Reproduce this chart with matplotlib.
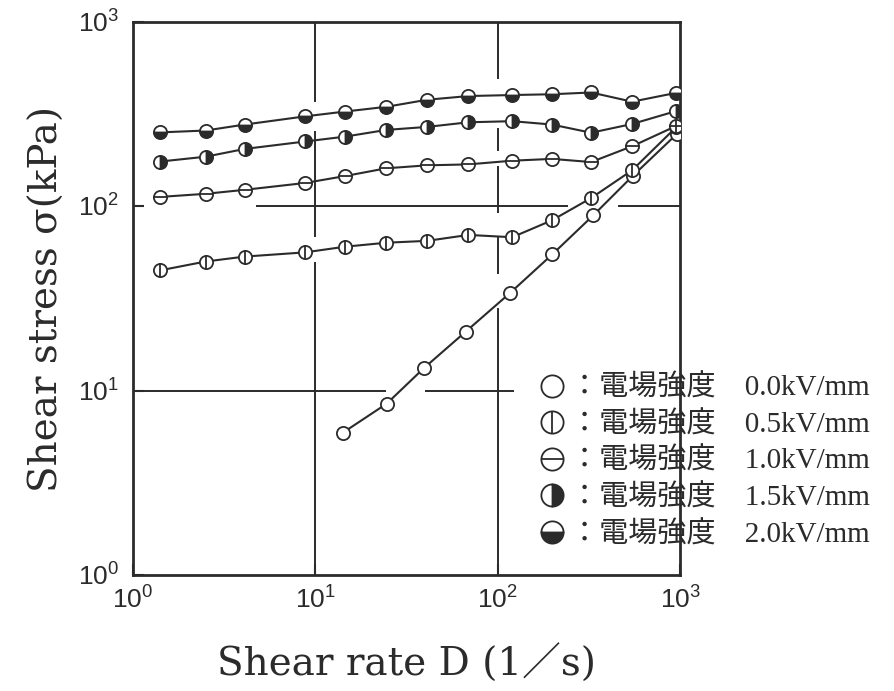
import numpy as np
import matplotlib
matplotlib.use("Agg")
import matplotlib.pyplot as plt
from matplotlib.lines import Line2D
from matplotlib.legend_handler import HandlerTuple
from matplotlib.ticker import FixedLocator, FuncFormatter, NullLocator

# ---------------- data ----------------
shear_rate = [1.4, 2.5, 4.1, 8.8, 14.5, 24.5, 41, 69, 120, 198, 325, 545, 950]
shear_rate_00 = [14.1, 24.6, 39.5, 66.7, 116, 199, 334, 548, 958]

stress_00 = [5.9, 8.5, 13.3, 20.9, 33.7, 54.9, 89.5, 146, 247]
stress_05 = [44.9, 50.2, 53.4, 56.3, 60.4, 63.5, 65.0, 70, 68, 84, 111, 157, 269]
stress_10 = [112.5, 117, 123, 134, 146, 161, 167, 169, 177, 181, 174, 212, 273]
stress_15 = [175, 186, 205, 225, 239, 260, 270, 286, 290, 278, 251, 280, 329]
stress_20 = [252, 258, 278, 308, 327, 347, 379, 397, 402, 406, 415, 370, 413]

field_labels = ["0.0kV/mm", "0.5kV/mm", "1.0kV/mm", "1.5kV/mm", "2.0kV/mm"]
legend_prefix = "：電場強度\u3000"

decade_ticks = [1, 10, 100, 1000]

# broken grid lines of the original figure (data coords)
vgrid_segments = {10: [(370, 1000), (68, 255), (1, 50)],
                  100: [(490, 1000), (200, 265), (92, 165), (43, 68), (1, 28)]}
hgrid_segments = {100: [(4.7, 243), (457, 1000)],
                  10: [(1, 24.5), (40, 122)]}

# ---------------- style ----------------
plt.rcParams["mathtext.fontset"] = "custom"
plt.rcParams["mathtext.rm"] = "Liberation Sans"
plt.rcParams["mathtext.it"] = "Liberation Sans:italic"
plt.rcParams["mathtext.bf"] = "Liberation Sans:bold"

ink = "#2b2b2b"
serif_cjk = ["DejaVu Serif", "Noto Sans CJK JP"]
legend_fonts = ["Liberation Serif", "Noto Sans CJK JP"]

fig = plt.figure(figsize=(8.95, 6.91), dpi=100)
ax = fig.add_axes([0.1486, 0.168, 0.6114, 0.800])
ax.set_xscale("log")
ax.set_yscale("log")
ax.set_xlim(1, 1000)
ax.set_ylim(1, 1000)

# grid segments
for xv, segs in vgrid_segments.items():
    for y0, y1 in segs:
        ax.plot([xv, xv], [y0, y1], color=ink, lw=1.4, zorder=1, solid_capstyle="butt")
for yv, segs in hgrid_segments.items():
    for x0, x1 in segs:
        ax.plot([x0, x1], [yv, yv], color=ink, lw=1.4, zorder=1, solid_capstyle="butt")

ms = 9.5
mew = 1.3
common = dict(color=ink, lw=1.5, marker="o", ms=ms, mec=ink, mew=mew, zorder=3)

# 0.0 kV/mm: open circle
ax.plot(shear_rate_00, stress_00, mfc="white", **common)
# 0.5 kV/mm: circle with vertical bar
ax.plot(shear_rate, stress_05, mfc="white", **common)
ax.plot(shear_rate, stress_05, ls="none", marker="|", ms=ms, mew=mew, color=ink, zorder=4)
# 1.0 kV/mm: circle with horizontal bar
ax.plot(shear_rate, stress_10, mfc="white", **common)
ax.plot(shear_rate, stress_10, ls="none", marker="_", ms=ms, mew=mew, color=ink, zorder=4)
# 1.5 kV/mm: right half filled
ax.plot(shear_rate, stress_15, fillstyle="right", mfc=ink, markerfacecoloralt="white", **common)
# 2.0 kV/mm: bottom half filled
ax.plot(shear_rate, stress_20, fillstyle="bottom", mfc=ink, markerfacecoloralt="white", **common)

# axes styling
for sp in ax.spines.values():
    sp.set_linewidth(2.0)
    sp.set_color(ink)
fmt = FuncFormatter(lambda v, p: r"$\mathrm{10^{%d}}$" % int(round(np.log10(v))))
for axis in (ax.xaxis, ax.yaxis):
    axis.set_major_locator(FixedLocator(decade_ticks))
    axis.set_minor_locator(NullLocator())
    axis.set_major_formatter(fmt)
ax.tick_params(axis="both", which="major", direction="in", length=8, width=1.5,
               color=ink, labelsize=19, labelcolor=ink)
ax.tick_params(axis="x", pad=9)
ax.tick_params(axis="y", pad=10)

ax.set_xlabel("Shear rate D (1／s)", fontsize=28, family=serif_cjk, color=ink, labelpad=22)
ax.set_ylabel("Shear stress σ(kPa)", fontsize=28, family=serif_cjk, color=ink, labelpad=9)

# legend
lms = 16
h00 = Line2D([], [], ls="none", marker="o", ms=lms, mfc="white", mec=ink, mew=mew)
h05 = (Line2D([], [], ls="none", marker="o", ms=lms, mfc="white", mec=ink, mew=mew),
       Line2D([], [], ls="none", marker="|", ms=lms, color=ink, mew=mew))
h10 = (Line2D([], [], ls="none", marker="o", ms=lms, mfc="white", mec=ink, mew=mew),
       Line2D([], [], ls="none", marker="_", ms=lms, color=ink, mew=mew))
h15 = Line2D([], [], ls="none", marker="o", ms=lms, fillstyle="right", mfc=ink,
             markerfacecoloralt="white", mec=ink, mew=mew)
h20 = Line2D([], [], ls="none", marker="o", ms=lms, fillstyle="bottom", mfc=ink,
             markerfacecoloralt="white", mec=ink, mew=mew)
handles = [h00, h05, h10, h15, h20]
labels = [legend_prefix + f for f in field_labels]
leg = ax.legend(handles, labels, handler_map={tuple: HandlerTuple(ndivide=1, pad=0)},
                loc="upper left", bbox_to_anchor=(0.601, 0.458), bbox_transform=fig.transFigure,
                frameon=False, borderpad=0, borderaxespad=0, handlelength=1.0,
                handletextpad=0.1, labelspacing=0.32,
                prop={"family": legend_fonts, "size": 21})
for t in leg.get_texts():
    t.set_color(ink)
leg.set_zorder(5)

fig.savefig("out.png", dpi=100, facecolor="white")
